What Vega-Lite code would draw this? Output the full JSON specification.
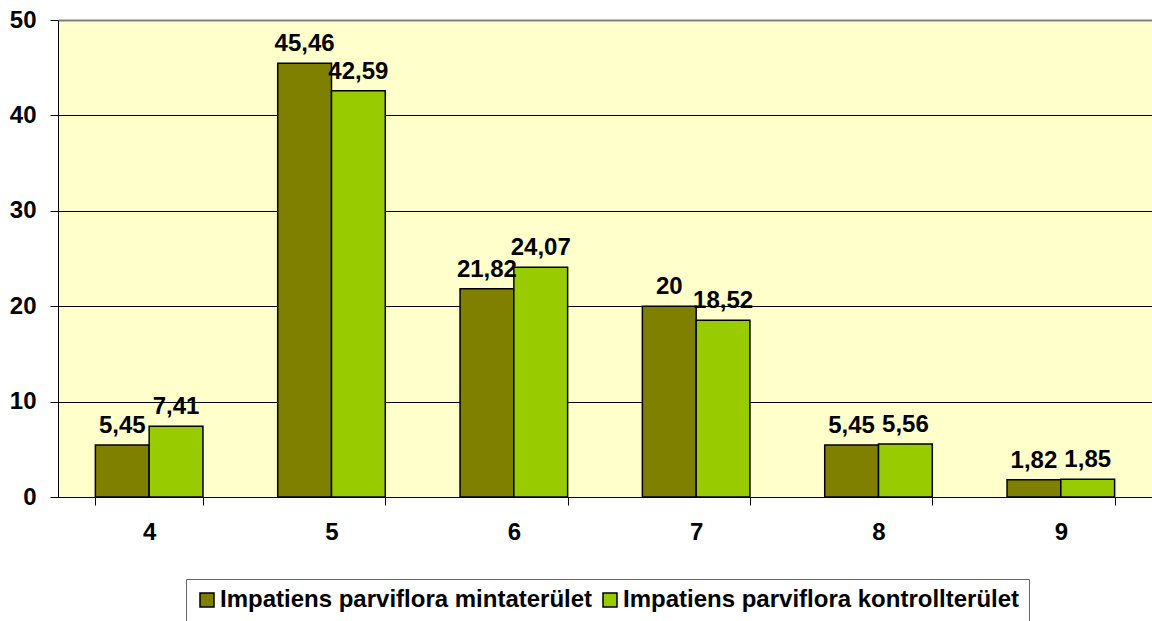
{
  "$schema": "https://vega.github.io/schema/vega-lite/v6.json",
  "width": 1094,
  "height": 477,
  "autosize": "none",
  "padding": {"left": 58, "top": 20, "right": 0, "bottom": 124},
  "background": "white",
  "config": {
    "locale": {"number": {"decimal": ",", "thousands": " ", "grouping": [3], "currency": ["", ""]}},
    "view": {"stroke": null, "fill": "#FFFFCC"},
    "font": "Liberation Sans"
  },
  "data": {
    "values": [
      {"cat": "4", "series": "Impatiens parviflora mintaterület", "value": 5.45},
      {"cat": "4", "series": "Impatiens parviflora kontrollterület", "value": 7.41},
      {"cat": "5", "series": "Impatiens parviflora mintaterület", "value": 45.46},
      {"cat": "5", "series": "Impatiens parviflora kontrollterület", "value": 42.59},
      {"cat": "6", "series": "Impatiens parviflora mintaterület", "value": 21.82},
      {"cat": "6", "series": "Impatiens parviflora kontrollterület", "value": 24.07},
      {"cat": "7", "series": "Impatiens parviflora mintaterület", "value": 20},
      {"cat": "7", "series": "Impatiens parviflora kontrollterület", "value": 18.52},
      {"cat": "8", "series": "Impatiens parviflora mintaterület", "value": 5.45},
      {"cat": "8", "series": "Impatiens parviflora kontrollterület", "value": 5.56},
      {"cat": "9", "series": "Impatiens parviflora mintaterület", "value": 1.82},
      {"cat": "9", "series": "Impatiens parviflora kontrollterület", "value": 1.85}
    ]
  },
  "encoding": {
    "x": {
      "field": "cat", "type": "ordinal",
      "scale": {"paddingInner": 0.41, "paddingOuter": 0.205},
      "axis": {
        "title": null, "labelAngle": 0, "tickBand": "extent",
        "domainColor": "black", "domainWidth": 1, "tickColor": "black", "tickSize": 8,
        "labelFontSize": 24, "labelFontWeight": "bold", "labelColor": "black", "labelPadding": 15
      }
    },
    "xOffset": {
      "field": "series", "type": "nominal",
      "scale": {"domain": ["Impatiens parviflora mintaterület", "Impatiens parviflora kontrollterület"], "paddingInner": 0, "paddingOuter": 0}
    },
    "y": {
      "field": "value", "type": "quantitative",
      "scale": {"domain": [0, 50], "nice": false},
      "axis": {
        "title": null, "values": [0, 10, 20, 30, 40, 50], "grid": true,
        "gridColor": {"condition": {"test": "datum.value == 50", "value": "#808080"}, "value": "black"},
        "gridWidth": {"condition": {"test": "datum.value == 50", "value": 2}, "value": 1},
        "domainColor": "black", "tickColor": "black", "tickSize": 8,
        "labelFontSize": 24, "labelFontWeight": "bold", "labelColor": "black", "labelPadding": 14
      }
    }
  },
  "layer": [
    {
      "mark": {"type": "bar", "stroke": "black", "strokeWidth": 1.5},
      "encoding": {
        "color": {
          "field": "series", "type": "nominal",
          "scale": {"domain": ["Impatiens parviflora mintaterület", "Impatiens parviflora kontrollterület"], "range": ["#808000", "#99CC00"]},
          "legend": {
            "title": null, "orient": "none", "legendX": 128, "legendY": 559,
            "direction": "horizontal", "strokeColor": "#666666", "padding": 9,
            "symbolType": "square", "symbolSize": 196, "symbolStrokeColor": "black", "symbolStrokeWidth": 1.5,
            "symbolOpacity": 1,
            "labelFont": "Liberation Sans", "labelFontSize": 24, "labelFontWeight": "bold", "labelColor": "black",
            "labelOffset": 1, "columnPadding": 5, "labelLimit": 0
          }
        }
      }
    },
    {
      "mark": {"type": "text", "dy": -12, "baseline": "alphabetic", "fontSize": 24, "fontWeight": "bold", "color": "black"},
      "encoding": {"text": {"field": "value", "type": "quantitative"}}
    }
  ]
}
